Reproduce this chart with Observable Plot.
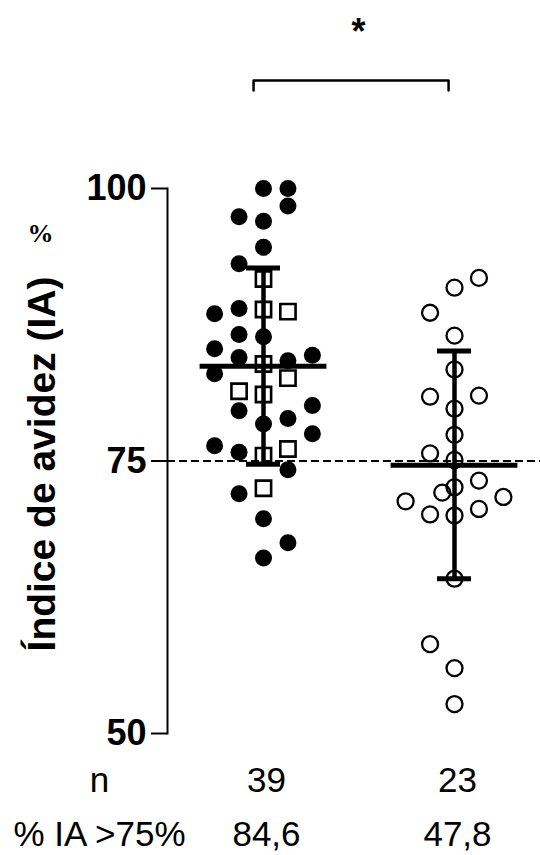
<!DOCTYPE html>
<html><head><meta charset="utf-8">
<script src="https://cdn.jsdelivr.net/npm/d3@7"></script>
<script src="https://cdn.jsdelivr.net/npm/@observablehq/plot@0.6"></script>
<style>
body{margin:0;background:#fff;}
#chart svg{display:block;}
</style>
</head><body><div id="chart"></div>
<script>
// ---- data ----
const groupIndex = [0, 1];
const nValues = ["39", "23"];
const pctAbove75 = ["84,6", "47,8"];
const yTicks = [50, 75, 100];
const threshold = 75;

// group 1, filled circles (value, swarm column)
const g1CircleValues = [100.0, 100.0, 98.4, 97.4, 97.0, 94.6, 93.1, 89.0, 88.5, 86.6, 86.4, 85.3, 84.5, 84.2, 84.7, 83.0, 80.1, 79.6, 78.9, 78.4, 77.5, 76.4, 75.8, 74.2, 72.0, 69.7, 67.5, 66.1];
const g1CircleCols   = [0, 1, 1, -1, 0, 0, -1, -1, -2, -1, 0, -2, -1, 1, 2, -2, 2, -1, 1, 0, 2, -2, -1, 1, -1, 0, 1, 0];
// group 1, open squares
const g1SquareValues = [91.7, 88.9, 88.7, 83.9, 82.6, 81.4, 81.1, 76.1, 75.5, 72.5];
const g1SquareCols   = [0, 0, 1, 0, 1, -1, 0, 1, 0, 0];
// group 2, open circles
const g2CircleValues = [91.8, 90.9, 88.6, 86.5, 83.4, 81.0, 80.9, 79.8, 77.4, 75.7, 75.1, 73.2, 72.6, 72.1, 71.7, 71.3, 70.6, 70.1, 70.0, 64.2, 58.2, 56.0, 52.7];
const g2CircleCols   = [1, 0, -1, 0, 0, 1, -1, 0, 0, -1, 0, 1, 0, -0.5, 2, -2, 1, -1, 0, 0, -1, 0, 0];
// mean ± SD per group
const means = [83.7, 74.6];
const sdUpper = [92.7, 85.1];
const sdLower = [74.7, 64.2];
const significance = "*";

// ---- layout constants (styles, not data) ----
const colStep = 0.128;
const meanHalf = 0.332;
const capHalf = 0.089;

const pts = (vals, cols, g) => vals.map((v, i) => ({v, x: g + cols[i] * colStep}));
const g1c = pts(g1CircleValues, g1CircleCols, 0);
const g1s = pts(g1SquareValues, g1SquareCols, 0);
const g2c = pts(g2CircleValues, g2CircleCols, 1);
const stats = groupIndex.map(g => ({g, mean: means[g], hi: sdUpper[g], lo: sdLower[g], n: nValues[g], pct: pctAbove75[g]}));

const bracketTop = 109.9, bracketLeg = 109.0, starY = 114.3;
const bracket = [
  {x: -0.052, y: bracketLeg}, {x: -0.052, y: bracketTop},
  {x: 0.969, y: bracketTop}, {x: 0.969, y: bracketLeg}
];

const plot = Plot.plot({
  width: 540,
  height: 855,
  marginLeft: 167,
  marginRight: 0,
  marginTop: 188,
  marginBottom: 122,
  style: {fontFamily: "'Liberation Sans', Arial, sans-serif", color: "#000", background: "#fff", overflow: "visible"},
  x: {type: "linear", domain: [0, 1], range: [263, 454], axis: null},
  y: {domain: [50, 100], axis: null},
  marks: [
    Plot.ruleY([threshold], {stroke: "#000", strokeWidth: 2, strokeDasharray: "8,4"}),
    Plot.frame({anchor: "left", stroke: "#000", strokeWidth: 2}),
    Plot.axisY({ticks: yTicks, tickSize: 16, tickPadding: 5, fontSize: 36, fontWeight: "bold", label: null, strokeWidth: 2, tickFormat: d => d}),
    // points
    Plot.dot(g1c, {x: "x", y: "v", r: 8.5, fill: "#000", stroke: "none"}),
    Plot.dot(g1s, {x: "x", y: "v", r: 8.6, symbol: "square", fill: "none", stroke: "#000", strokeWidth: 2.6}),
    Plot.dot(g2c, {x: "x", y: "v", r: 8, fill: "none", stroke: "#000", strokeWidth: 2.3}),
    // error bars
    Plot.ruleX(stats, {x: "g", y1: "lo", y2: "hi", stroke: "#000", strokeWidth: 4.5}),
    Plot.ruleY(stats, {y: "mean", x1: d => d.g - meanHalf, x2: d => d.g + meanHalf, stroke: "#000", strokeWidth: 5}),
    Plot.ruleY(stats, {y: "hi", x1: d => d.g - capHalf, x2: d => d.g + capHalf, stroke: "#000", strokeWidth: 5}),
    Plot.ruleY(stats, {y: "lo", x1: d => d.g - capHalf, x2: d => d.g + capHalf, stroke: "#000", strokeWidth: 5}),
    // significance bracket
    Plot.line(bracket, {x: "x", y: "y", stroke: "#000", strokeWidth: 2.5}),
    Plot.text([significance], {x: () => 0.497, y: () => starY, text: d => d, fontSize: 36, fontWeight: "bold", lineAnchor: "middle"}),
    // y label
    Plot.text(["Índice de avidez (IA)"], {frameAnchor: "left", dx: -125, dy: 3, rotate: -90, text: d => d, fontSize: 39, fontWeight: "bold", textAnchor: "middle", lineAnchor: "middle"}),
    Plot.text(["%"], {frameAnchor: "top-left", dx: -127, dy: 45, text: d => d, fontSize: 26, fontWeight: "bold", fontFamily: "'Liberation Serif', 'Times New Roman', serif", textAnchor: "middle", lineAnchor: "middle"}),
    // bottom table
    Plot.text(["n"], {frameAnchor: "bottom-left", dx: -68, dy: 47, text: d => d, fontSize: 35, textAnchor: "middle", lineAnchor: "middle"}),
    Plot.text(["% IA >75%"], {frameAnchor: "bottom-left", dx: -68, dy: 101, text: d => d, fontSize: 35, textAnchor: "middle", lineAnchor: "middle"}),
    Plot.text(stats, {x: "g", frameAnchor: "bottom", dx: 3, dy: 47, text: "n", fontSize: 35, textAnchor: "middle", lineAnchor: "middle"}),
    Plot.text(stats, {x: "g", frameAnchor: "bottom", dx: 3, dy: 101, text: "pct", fontSize: 35, textAnchor: "middle", lineAnchor: "middle"})
  ]
});
document.getElementById("chart").appendChild(plot);
</script>
</body></html>
